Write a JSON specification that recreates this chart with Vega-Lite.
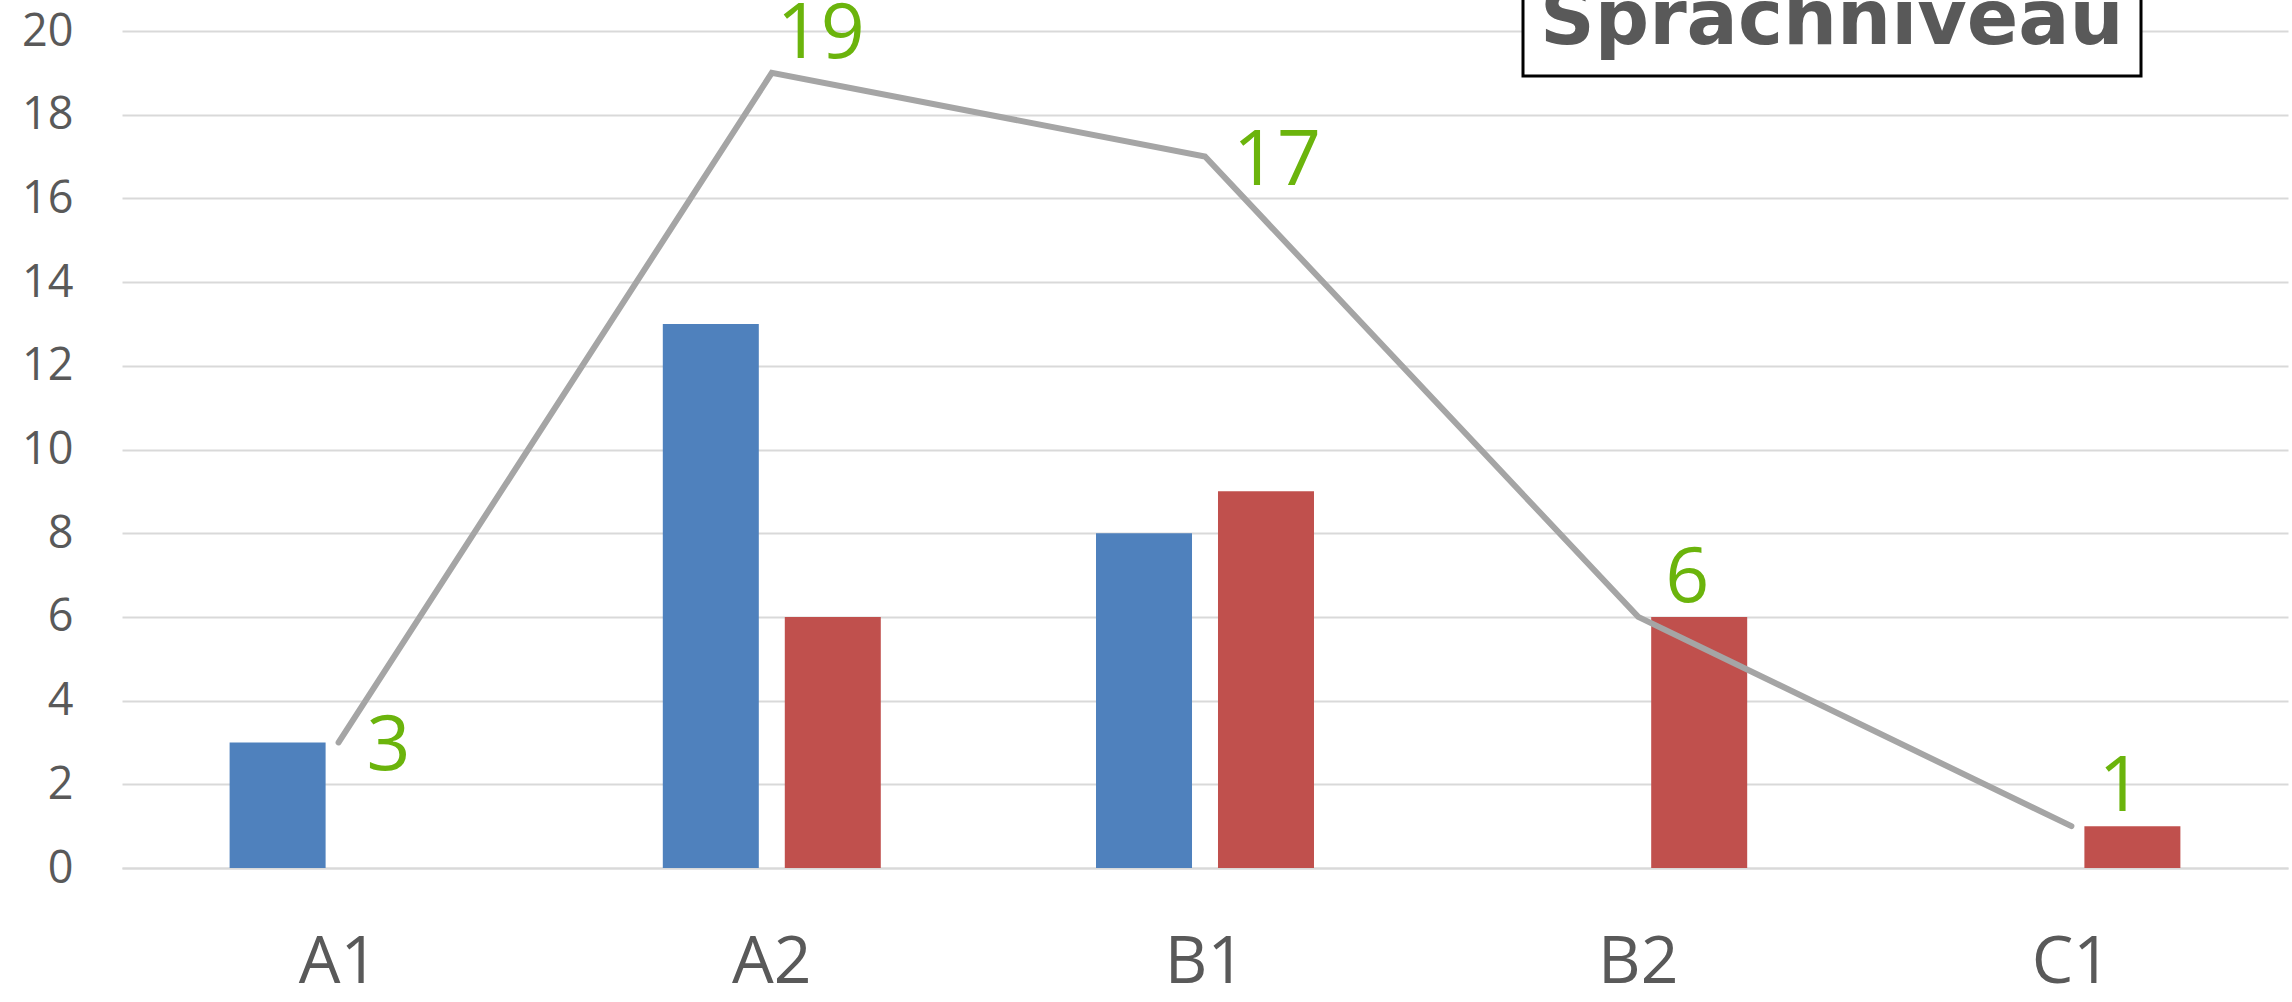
{
  "$schema": "https://vega.github.io/schema/vega-lite/v6.json",
  "width": 2166,
  "height": 837,
  "autosize": {"type": "none"},
  "padding": {"left": 122, "top": 31, "right": 4, "bottom": 134},
  "background": "white",
  "datasets": {
    "bars": [
      {"niveau": "A1", "reihe": "Reihe1", "anzahl": 3},
      {"niveau": "A2", "reihe": "Reihe1", "anzahl": 13},
      {"niveau": "A2", "reihe": "Reihe2", "anzahl": 6},
      {"niveau": "B1", "reihe": "Reihe1", "anzahl": 8},
      {"niveau": "B1", "reihe": "Reihe2", "anzahl": 9},
      {"niveau": "B2", "reihe": "Reihe2", "anzahl": 6},
      {"niveau": "C1", "reihe": "Reihe2", "anzahl": 1}
    ],
    "total": [
      {"niveau": "A1", "gesamt": 3},
      {"niveau": "A2", "gesamt": 19},
      {"niveau": "B1", "gesamt": 17},
      {"niveau": "B2", "gesamt": 6},
      {"niveau": "C1", "gesamt": 1}
    ]
  },
  "config": {"view": {"stroke": null}, "font": "Open Sans", "legend": {"strokeWidth": 3}},
  "layer": [
    {
      "data": {"name": "bars"},
      "mark": {"type": "bar"},
      "encoding": {
        "x": {
          "field": "niveau", "type": "nominal",
          "scale": {"paddingInner": 0.4968, "paddingOuter": 0.2484},
          "axis": {"title": null, "labelAngle": 0, "labelFontSize": 66, "labelFont": "Open Sans", "labelColor": "#595959", "labelPadding": 62, "ticks": false, "domainColor": "#D9D9D9", "domainWidth": 2, "grid": false}
        },
        "xOffset": {"field": "reihe", "type": "nominal", "scale": {"paddingInner": 0.213, "paddingOuter": 0}},
        "y": {
          "field": "anzahl", "type": "quantitative",
          "scale": {"domain": [0, 20], "nice": false},
          "axis": {"title": null, "values": [0, 2, 4, 6, 8, 10, 12, 14, 16, 18, 20], "labelFontSize": 45, "labelFont": "Open Sans", "labelColor": "#595959", "labelPadding": 49, "ticks": false, "domain": false, "grid": true, "gridColor": "#D9D9D9", "gridWidth": 2}
        },
        "color": {
          "field": "reihe", "type": "nominal",
          "scale": {"range": ["#4F81BD", "#C0504D"]},
          "legend": {"title": "Sprachniveau", "values": [], "orient": "none", "legendX": 1401, "legendY": -64, "strokeColor": "black", "fillColor": "white", "padding": 17, "titleFont": "DejaVu Sans", "titleFontSize": 76, "titleFontWeight": "bold", "titleColor": "#595959", "titlePadding": 0, "titleLimit": 2000}
        }
      }
    },
    {
      "data": {"name": "total"},
      "mark": {"type": "line", "color": "#A5A5A5", "strokeWidth": 6, "strokeCap": "round"},
      "encoding": {
        "x": {"field": "niveau", "type": "nominal"},
        "y": {"field": "gesamt", "type": "quantitative", "axis": {"title": null}}
      }
    },
    {
      "data": {"name": "total"},
      "transform": [{"filter": {"field": "niveau", "oneOf": ["A2", "B2", "C1"]}}],
      "mark": {"type": "text", "color": "#6BB40C", "font": "Open Sans", "fontSize": 77, "align": "center", "baseline": "middle", "dx": 49, "dy": -38},
      "encoding": {
        "x": {"field": "niveau", "type": "nominal"},
        "y": {"field": "gesamt", "type": "quantitative"},
        "text": {"field": "gesamt", "type": "quantitative"}
      }
    },
    {
      "data": {"name": "total"},
      "transform": [{"filter": {"field": "niveau", "oneOf": ["A1", "B1"]}}],
      "mark": {"type": "text", "color": "#6BB40C", "font": "Open Sans", "fontSize": 77, "align": "left", "baseline": "middle", "dx": 28, "dy": 5},
      "encoding": {
        "x": {"field": "niveau", "type": "nominal"},
        "y": {"field": "gesamt", "type": "quantitative"},
        "text": {"field": "gesamt", "type": "quantitative"}
      }
    }
  ]
}
